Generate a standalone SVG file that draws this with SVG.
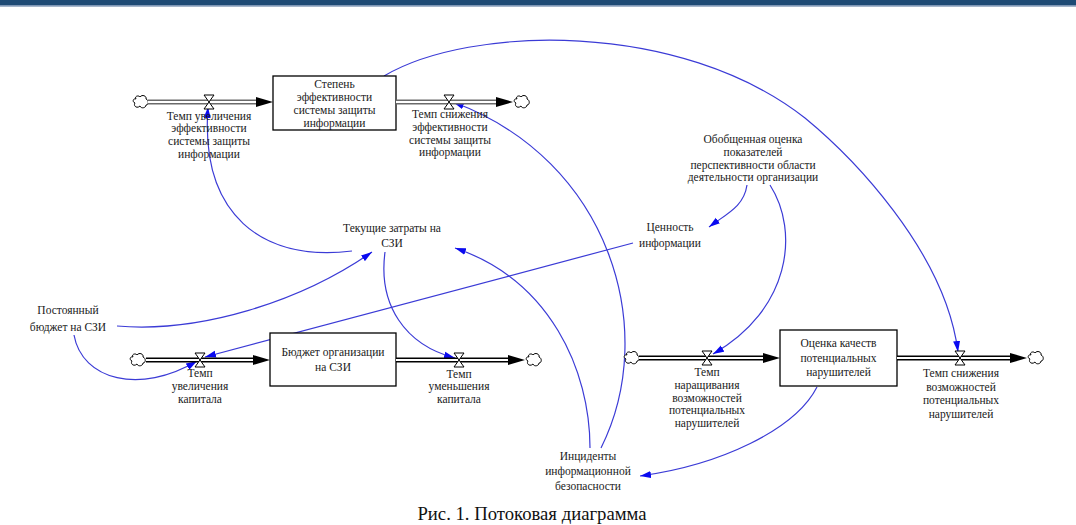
<svg xmlns="http://www.w3.org/2000/svg" xmlns:xlink="http://www.w3.org/1999/xlink" width="1076" height="525" viewBox="0 0 1076 525">
<style>
.t{font-family:"Liberation Serif","Times New Roman",serif;font-size:11.5px;fill:#1a1a1a;text-anchor:middle}
.cap{font-size:18.7px;fill:#111}
.stock{fill:#fff;stroke:#000;stroke-width:1.3}
.pipe{fill:none;stroke:#000;stroke-width:4.8}
.pg{stroke:#6a6a6a}
.pin{fill:none;stroke:#fff;stroke-width:2.2}
.con{fill:none;stroke:#3b3bd6;stroke-width:1.2;marker-end:url(#ah)}
</style>
<defs>
<marker id="ah" markerUnits="userSpaceOnUse" markerWidth="12" markerHeight="8" refX="11" refY="4" orient="auto" viewBox="0 0 12 8"><path d="M0,0.5 L11,4 L0,7.5 Z" fill="#0a0af0"/></marker>
<path id="parrow" d="M-17,-5 L0,0 L-17,5 Z" fill="#000"/>
<path id="valve" d="M-5,-7 H5 L-5,7 H5 Z" fill="#fff" stroke="#000" stroke-width="1"/>
<path id="cloud" d="M-5,-3 C-7,-6 -2,-7 -1,-5 C1,-8 6,-6 5,-3 C8,-2 8,3 5,3 C5,6 0,7 -1,4 C-4,7 -8,4 -6,1 C-9,0 -8,-4 -5,-3 Z" fill="#fff" stroke="#000" stroke-width="1"/>
</defs>
<rect width="1076" height="525" fill="#fff"/>
<rect x="0" y="0" width="1076" height="5.2" fill="#1e4a74"/>
<rect x="0" y="5.2" width="1076" height="1.4" fill="#6a86aa"/>

<g id="connectors">
<path class="con" d="M352,251 C262,262 200,215 208,107"/>
<path class="con" d="M117,326 C200,333 300,302 372,252"/>
<path class="con" d="M74,335 C82,380 140,395 197,361"/>
<path class="con" d="M633,243 L205,357"/>
<path class="con" d="M385,252 C378,305 405,345 455,358"/>
<path class="con" d="M590,448 C590,370 550,280 455,248"/>
<path class="con" d="M601,448 C660,330 610,160 453,102"/>
<path class="con" d="M384,76 C470,25 680,20 805,118 C850,155 945,250 958,352"/>
<path class="con" d="M747,185 C744,206 728,213 709,227"/>
<path class="con" d="M770,185 C800,232 790,310 713,354"/>
<path class="con" d="M817,387 C795,430 720,465 640,476"/>
</g>

<g id="flow-inc-eff">
<use xlink:href="#cloud" x="141" y="102"/>
<line class="pipe pg" x1="148" y1="102" x2="257" y2="102"/>
<line class="pin" x1="148" y1="102" x2="257" y2="102"/>
<use xlink:href="#parrow" x="273" y="102"/>
<use xlink:href="#valve" x="209" y="102"/>
<text class="t" x="209" y="119.5">Темп увеличения</text>
<text class="t" x="209" y="132.3">эффективности</text>
<text class="t" x="209" y="145.1">системы защиты</text>
<text class="t" x="209" y="157.9">информации</text>
</g>

<g id="stock-eff">
<rect class="stock" x="273" y="76" width="123" height="54"/>
<text class="t" x="334.5" y="88">Степень</text>
<text class="t" x="334.5" y="101">эффективности</text>
<text class="t" x="334.5" y="114">системы защиты</text>
<text class="t" x="334.5" y="127">информации</text>
</g>

<g id="flow-dec-eff">
<line class="pipe pg" x1="396" y1="102" x2="497" y2="102"/>
<line class="pin" x1="396" y1="102" x2="497" y2="102"/>
<use xlink:href="#parrow" x="513" y="102"/>
<use xlink:href="#cloud" x="522" y="102"/>
<use xlink:href="#valve" x="449" y="102"/>
<text class="t" x="450" y="118">Темп снижения</text>
<text class="t" x="450" y="130.8">эффективности</text>
<text class="t" x="450" y="143.6">системы защиты</text>
<text class="t" x="450" y="156.4">информации</text>
</g>

<g id="aux-general">
<text class="t" x="753" y="143">Обобщенная оценка</text>
<text class="t" x="753" y="155.8">показателей</text>
<text class="t" x="753" y="168.6">перспективности области</text>
<text class="t" x="753" y="181.4">деятельности организации</text>
</g>

<g id="aux-value">
<text class="t" x="670" y="230.5">Ценность</text>
<text class="t" x="670" y="246.5">информации</text>
</g>

<g id="aux-costs">
<text class="t" x="392" y="232">Текущие затраты на</text>
<text class="t" x="392" y="247">СЗИ</text>
</g>

<g id="aux-const-budget">
<text class="t" x="68" y="314">Постоянный</text>
<text class="t" x="68" y="330.5">бюджет на СЗИ</text>
</g>

<g id="flow-inc-cap">
<use xlink:href="#cloud" x="138" y="360"/>
<line class="pipe" x1="146" y1="360" x2="254" y2="360"/>
<line class="pin" x1="146" y1="360" x2="254" y2="360"/>
<use xlink:href="#parrow" x="270" y="360"/>
<use xlink:href="#valve" x="200" y="360"/>
<text class="t" x="200" y="377">Темп</text>
<text class="t" x="200" y="389.8">увеличения</text>
<text class="t" x="200" y="402.6">капитала</text>
</g>

<g id="stock-budget">
<rect class="stock" x="270" y="333" width="126" height="53"/>
<text class="t" x="333" y="356">Бюджет организации</text>
<text class="t" x="333" y="371">на СЗИ</text>
</g>

<g id="flow-dec-cap">
<line class="pipe" x1="396" y1="360" x2="509" y2="360"/>
<line class="pin" x1="396" y1="360" x2="509" y2="360"/>
<use xlink:href="#parrow" x="525" y="360"/>
<use xlink:href="#cloud" x="534" y="360"/>
<use xlink:href="#valve" x="459" y="360"/>
<text class="t" x="459" y="377.5">Темп</text>
<text class="t" x="459" y="390.3">уменьшения</text>
<text class="t" x="459" y="403.1">капитала</text>
</g>

<g id="flow-inc-threat">
<use xlink:href="#cloud" x="632" y="358"/>
<line class="pipe" x1="639" y1="358" x2="763" y2="358"/>
<line class="pin" x1="639" y1="358" x2="763" y2="358"/>
<use xlink:href="#parrow" x="780" y="358"/>
<use xlink:href="#valve" x="707" y="358"/>
<text class="t" x="707" y="376">Темп</text>
<text class="t" x="707" y="388.8">наращивания</text>
<text class="t" x="707" y="401.6">возможностей</text>
<text class="t" x="707" y="414.4">потенциальных</text>
<text class="t" x="707" y="427.2">нарушителей</text>
</g>

<g id="stock-threat">
<rect class="stock" x="780" y="330" width="117" height="56"/>
<text class="t" x="838.5" y="347">Оценка качеств</text>
<text class="t" x="838.5" y="361.5">потенциальных</text>
<text class="t" x="838.5" y="376">нарушителей</text>
</g>

<g id="flow-dec-threat">
<line class="pipe" x1="897" y1="358" x2="1011" y2="358"/>
<line class="pin" x1="897" y1="358" x2="1011" y2="358"/>
<use xlink:href="#parrow" x="1027" y="358"/>
<use xlink:href="#cloud" x="1036" y="358"/>
<use xlink:href="#valve" x="960" y="358"/>
<text class="t" x="961" y="377">Темп снижения</text>
<text class="t" x="961" y="390.5">возможностей</text>
<text class="t" x="961" y="404">потенциальных</text>
<text class="t" x="961" y="417.5">нарушителей</text>
</g>

<g id="aux-incidents">
<text class="t" x="588" y="459.5">Инциденты</text>
<text class="t" x="588" y="474.5">информационной</text>
<text class="t" x="588" y="489.5">безопасности</text>
</g>

<g id="caption">
<text class="t cap" x="532" y="520">Рис. 1. Потоковая диаграмма</text>
</g>
</svg>
